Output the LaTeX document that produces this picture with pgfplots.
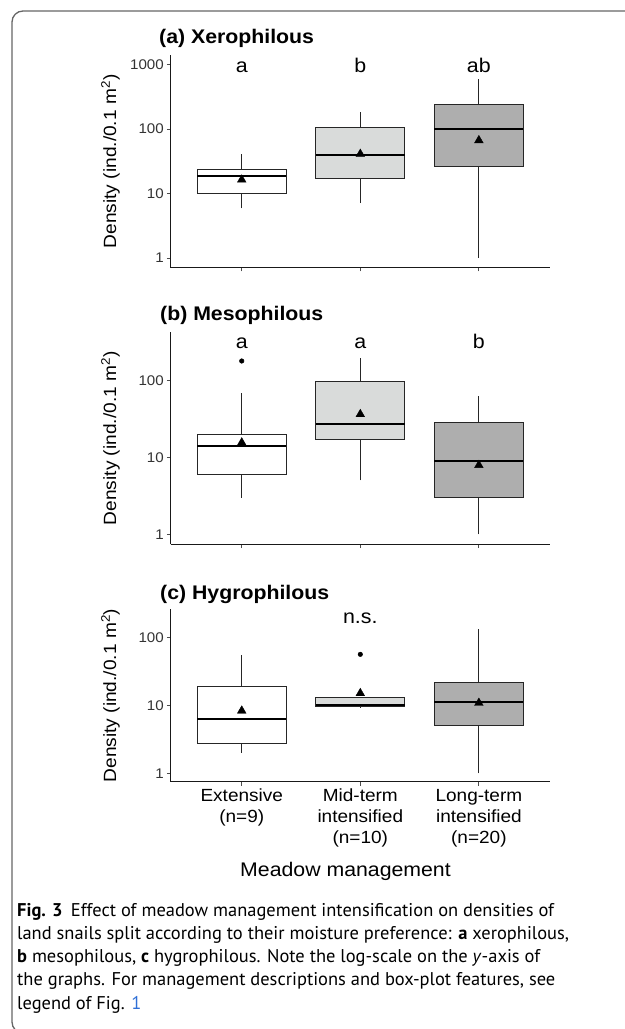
\documentclass[border=0pt]{standalone}
\usepackage{pgfplots}
\pgfplotsset{compat=1.18}
\usepackage{fontspec}
\setmainfont{Liberation Sans}[FakeStretch=1.08]
\newfontfamily\capfont{PT Sans}
\definecolor{boxB}{HTML}{D9DBDA}
\definecolor{boxC}{HTML}{AEAEAE}
\definecolor{linkblue}{HTML}{2F6FD6}
\tikzset{
  bx/.style={draw=black!85, line width=0.9bp},
  lett/.style={anchor=base, font=\fontsize{19.8bp}{22bp}\selectfont},
}
\pgfplotsset{
  every axis/.append style={
    scale only axis, width=379.4bp, xmin=0.4, xmax=3.6,
    axis x line*=bottom, axis y line*=left,
    axis line style={line width=1bp, black!90},
    xtick={1,2,3},
    ytick={1,10,100,1000}, yticklabels={1,10,100,1000},
    yminorticks=false,
    tick style={line width=0.8bp, black!70}, major tick length=3.8bp, tick align=outside,
    yticklabel style={font=\fontsize{14bp}{16bp}\selectfont, text=black!80, inner xsep=2.8bp},
    clip=false,
    ylabel={Density (ind./0.1 m\textsuperscript{2})},
    ylabel style={at={(axis description cs:-0.1584,0.5)}, anchor=center, font=\fontsize{17.7bp}{20bp}\selectfont},
  },
}
% box: left, centre, right, fill, lower whisker, Q1, median, Q3, upper whisker
\newcommand{\bp}[9]{%
  \addplot[bx] coordinates {(#2,#5)(#2,#6)};
  \addplot[bx] coordinates {(#2,#8)(#2,#9)};
  \addplot[bx, fill=#4] coordinates {(#1,#6)(#3,#6)(#3,#8)(#1,#8)} -- cycle;
  \addplot[black, line width=2.2bp] coordinates {(#1,#7)(#3,#7)};
}
\begin{document}
\begin{tikzpicture}
\begin{scope}[x=1bp,y=-1bp]
\useasboundingbox (0,0) rectangle (625,1029);
\draw[line width=1.3bp, black!60, rounded corners=11bp] (640,11) -- (12,11) -- (12,1033) -- (640,1033);
\node[anchor=west, font=\bfseries\fontsize{19.7bp}{22bp}\selectfont, inner sep=0pt] at (159,38.5) {(a) Xerophilous};
\node[anchor=west, font=\bfseries\fontsize{19.7bp}{22bp}\selectfont, inner sep=0pt] at (160,315) {(b) Mesophilous};
\node[anchor=west, font=\bfseries\fontsize{19.7bp}{22bp}\selectfont, inner sep=0pt] at (160,594) {(c) Hygrophilous};
\coordinate (pa) at (170.6,267.7);
\coordinate (pb) at (170.6,544.3);
\coordinate (pc) at (170.6,781.7);
\node[font=\fontsize{19.7bp}{22bp}\selectfont] at (345.5,871.7) {Meadow management};
\begin{scope}[every node/.style={anchor=base west, inner sep=0pt, font=\capfont\fontsize{18.45bp}{23bp}\selectfont}]
\node at (17,916) {\textbf{Fig. 3}\hspace{0.45em}Effect of meadow management intensification on densities of};
\node at (17,939.3) {land snails split according to their moisture preference: \textbf{a} xerophilous,};
\node at (17,962.6) {\textbf{b} mesophilous, \textbf{c} hygrophilous. Note the log-scale on the \textit{y}-axis of};
\node at (17,985.9) {the graphs. For management descriptions and box-plot features, see};
\node at (17,1009.2) {legend of Fig. \textcolor{linkblue}{1}};
\end{scope}
\end{scope}

% panel a
\begin{axis}[ymode=log, at={(pa)}, anchor=south west, height=212.7bp, ymin=0.708, ymax=1412.5, xticklabels={}]
\bp{0.625}{1}{1.375}{white}{5.9}{10}{18.7}{23.4}{41.5}
\bp{1.625}{2}{2.375}{boxB}{7.1}{17.2}{39.2}{105}{186}
\bp{2.625}{3}{3.375}{boxC}{1}{26.1}{100}{243}{605}
\addplot[only marks, mark=triangle*, mark size=5bp, black] coordinates {(1,16.4) (2,41.1) (3,67)};
\node[lett] at (axis cs:1,750) {a};
\node[lett] at (axis cs:2,750) {b};
\node[lett] at (axis cs:3,750) {ab};
\end{axis}

% panel b
\begin{axis}[ymode=log, at={(pb)}, anchor=south west, height=212bp, ymin=0.741, ymax=419.8, xticklabels={}]
\bp{0.625}{1}{1.375}{white}{3.0}{6.0}{13.9}{19.7}{69}
\bp{1.625}{2}{2.375}{boxB}{5.0}{17.3}{26.8}{98}{195}
\bp{2.625}{3}{3.375}{boxC}{1}{3.0}{8.9}{28.1}{62.5}
\addplot[only marks, mark=*, mark size=2.3bp, black] coordinates {(1,178)};
\addplot[only marks, mark=triangle*, mark size=5bp, black] coordinates {(1,15.5) (2,36.2) (3,7.9)};
\node[lett] at (axis cs:1,255) {a};
\node[lett] at (axis cs:2,255) {a};
\node[lett] at (axis cs:3,255) {b};
\end{axis}

% panel c
\begin{axis}[ymode=log, at={(pc)}, anchor=south west, height=172.4bp, ymin=0.752, ymax=257,
  xticklabels={{Extensive\\(n=9)},{Mid-term\\intensified\\(n=10)},{Long-term\\intensified\\(n=20)}},
  xticklabel style={align=center, font=\fontsize{17.6bp}{21bp}\selectfont, inner ysep=3.5bp}]
\bp{0.625}{1}{1.375}{white}{2.0}{2.7}{6.3}{18.8}{55}
\bp{1.625}{2}{2.375}{boxB}{9.2}{9.7}{10.1}{13.1}{13.1}
\bp{2.625}{3}{3.375}{boxC}{1}{5.0}{11.1}{21.8}{131}
\addplot[only marks, mark=*, mark size=2.3bp, black] coordinates {(2,56)};
\addplot[only marks, mark=triangle*, mark size=5bp, black] coordinates {(1,8.3) (2,15.0) (3,10.8)};
\node[lett] at (axis cs:2,161) {n.s.};
\end{axis}
\end{tikzpicture}
\end{document}
